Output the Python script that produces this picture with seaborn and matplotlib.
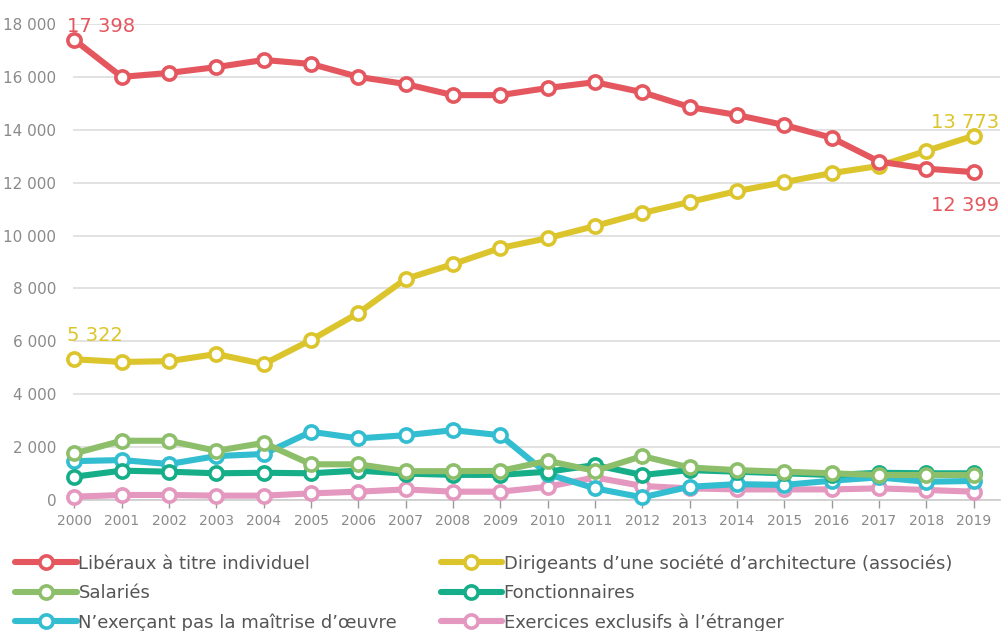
import matplotlib
matplotlib.use('Agg')
import matplotlib.pyplot as plt
import pandas as pd
import seaborn as sns

# data
years = list(range(2000, 2020))
liberaux = [17398, 16000, 16150, 16370, 16640, 16490, 16000, 15730, 15310, 15310,
            15580, 15800, 15420, 14860, 14560, 14180, 13700, 12800, 12530, 12399]
dirigeants = [5322, 5220, 5250, 5520, 5140, 6050, 7070, 8360, 8920, 9530,
              9900, 10360, 10850, 11270, 11680, 12020, 12360, 12630, 13200, 13773]
salaries = [1760, 2240, 2240, 1860, 2160, 1350, 1350, 1090, 1090, 1100,
            1480, 1100, 1660, 1230, 1130, 1070, 1010, 945, 945, 945]
fonctionnaires = [880, 1110, 1070, 1010, 1030, 1010, 1110, 1000, 950, 950,
                  1070, 1320, 945, 1130, 1070, 1010, 945, 1030, 1010, 1010]
n_exercant = [1470, 1510, 1360, 1660, 1740, 2580, 2330, 2450, 2640, 2450,
              980, 440, 100, 500, 600, 570, 730, 855, 690, 720]
etranger = [125, 190, 190, 165, 165, 250, 315, 400, 315, 315,
            500, 855, 530, 440, 400, 400, 400, 440, 380, 315]

series_names = ['Libéraux à titre individuel',
                'Dirigeants d\u2019une société d\u2019architecture (associés)',
                'Salariés',
                'Fonctionnaires',
                'N\u2019exerçant pas la maîtrise d\u2019œuvre',
                'Exercices exclusifs à l\u2019étranger']
series_values = [liberaux, dirigeants, salaries, fonctionnaires, n_exercant, etranger]
colors = ['#e4575f', '#dcc52c', '#8dbf6b', '#16ad89', '#33bdd0', '#e497bf']

rows = []
for name, vals in zip(series_names, series_values):
    for y, v in zip(years, vals):
        rows.append({'year': y, 'value': v, 'serie': name})
df = pd.DataFrame(rows)

# build image
sns.set_style('white')
plt.rcParams['font.family'] = ['DejaVu Sans']
fig = plt.figure(figsize=(10.07, 6.31), dpi=100)
ax = fig.add_axes([73/1007, 1 - 500/631, (1000 - 73)/1007, (500 - 24)/631])

# draw in reverse so the red line sits on top
for i in range(len(series_names))[::-1]:
    sub = df[df.serie == series_names[i]]
    sns.lineplot(data=sub, x='year', y='value', ax=ax, color=colors[i],
                 linewidth=4.4, marker='o', markersize=9.5,
                 markerfacecolor='white', markeredgecolor=colors[i],
                 markeredgewidth=2.6, label=series_names[i], clip_on=False,
                 zorder=3 + (len(series_names) - i))

# value labels
ax.text(years[0] - 0.15, liberaux[0] + 150, '17 398', color=colors[0], fontsize=14,
        ha='left', va='bottom')
ax.text(years[-1] + 0.55, liberaux[-1] - 900, '12 399', color=colors[0], fontsize=14,
        ha='right', va='top')
ax.text(years[0] - 0.15, dirigeants[0] + 550, '5 322', color=colors[1], fontsize=14,
        ha='left', va='bottom')
ax.text(years[-1] + 0.55, dirigeants[-1] + 150, '13 773', color=colors[1], fontsize=14,
        ha='right', va='bottom')

# graph elements
ax.set_xlim(2000 - 0.03, 2019 + 0.56)
ax.set_ylim(0, 18000)
ax.set_yticks(range(0, 18001, 2000))
ax.set_yticklabels(['0'] + ['{:,}'.format(v).replace(',', ' ') for v in range(2000, 18001, 2000)])
ax.set_xticks(years)
ax.set_xticklabels([str(y) for y in years])
ax.yaxis.grid(True, color='#dddddd', linewidth=1.2)
ax.xaxis.grid(False)
for s in ['top', 'right', 'left']:
    ax.spines[s].set_visible(False)
ax.spines['bottom'].set_color('#cccccc')
ax.spines['bottom'].set_linewidth(1.2)
ax.tick_params(axis='x', colors='#999999', labelcolor='#8a8a8a', length=6, width=1,
               labelsize=10, pad=4, direction='out', bottom=True)
ax.tick_params(axis='y', colors='#8a8a8a', length=0, labelsize=11, pad=12)
ax.set_xlabel('')
ax.set_ylabel('')

# legend: 2 columns filled row by row
handles, labels = ax.get_legend_handles_labels()
hmap = dict(zip(labels, handles))
ax.get_legend().remove()
leg_order = [0, 2, 4, 1, 3, 5]
fig.legend([hmap[series_names[k]] for k in leg_order], [series_names[k] for k in leg_order],
           loc='upper left', bbox_to_anchor=(8/1007, 1 - 547/631), ncol=2,
           frameon=False, handlelength=3.4, handletextpad=0.1,
           labelspacing=0.62, columnspacing=2.4, borderaxespad=0, labelcolor='#555555',
           prop={'family': ['DejaVu Sans'], 'size': 13})

fig.savefig('out.png', dpi=100)
